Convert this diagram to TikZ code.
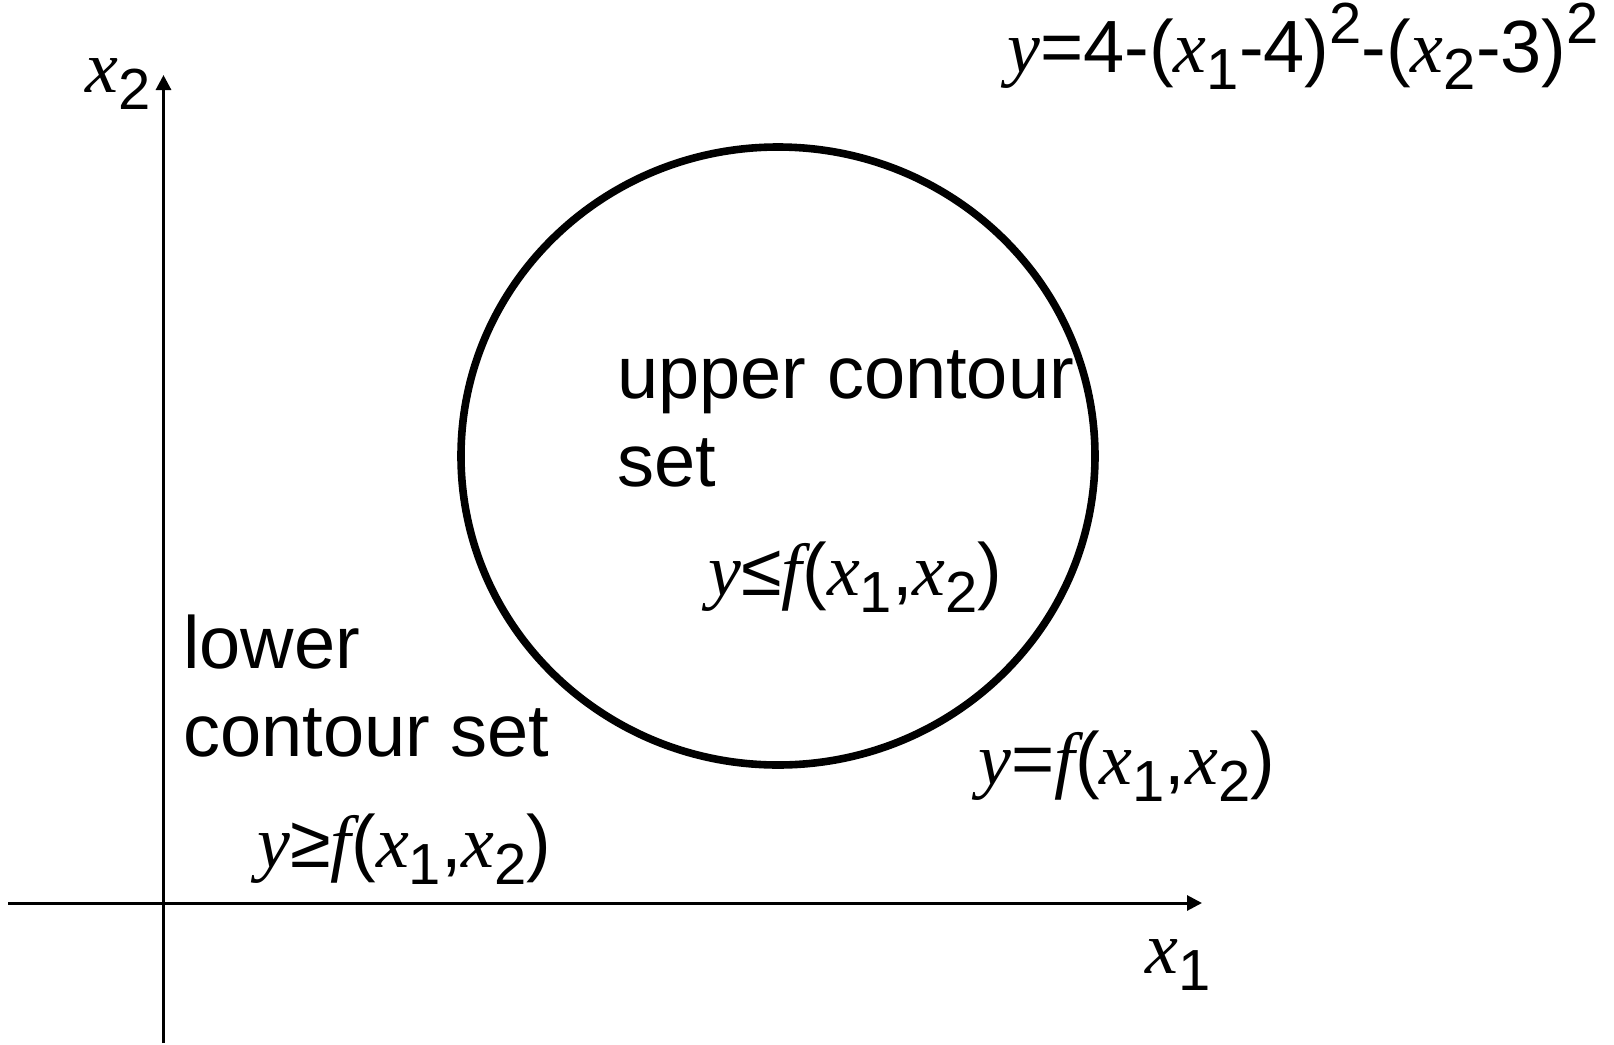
\documentclass[tikz,border=0pt]{standalone}
\usepackage{fontspec}
\setmainfont{Liberation Sans}
\newfontfamily\timesfont{Liberation Serif}
\usetikzlibrary{arrows.meta}

% italic variables in Times, scripts in Arial
\newcommand{\var}[1]{{\timesfont\itshape #1}}
\newcommand{\dn}[1]{\raisebox{-0.24em}{\fontsize{29}{29}\selectfont #1}}
\newcommand{\up}[1]{\raisebox{0.38em}{\fontsize{29}{29}\selectfont #1}}

\begin{document}
\begin{tikzpicture}[
  x=0.5pt, y=-0.5pt,
  font=\fontsize{37}{44}\selectfont,
  lbl/.style={anchor=base west, inner sep=0pt, align=left},
  axis/.style={line width=1.5pt, -{Triangle[length=7.5pt, width=7.5pt]}},
  contour/.style={line width=3.8pt},
]
  \useasboundingbox (0,0) rectangle (1614,1045);

  % --- axes ---
  \coordinate (xtail) at (8,903);
  \coordinate (xhead) at (1202,903);
  \coordinate (ytail) at (163.5,1043);
  \coordinate (yhead) at (163.5,75);
  \draw[axis] (xtail) -- (xhead);
  \draw[axis] (ytail) -- (yhead);
  \node[lbl] (xone) at (1145,973) {\var{x}\dn{1}};
  \node[lbl] (xtwo) at (85,92) {\var{x}\dn{2}};

  % --- level curve ---
  \draw[contour] (778,456) ellipse [x radius=317, y radius=309];

  % --- labels (base = last line) ---
  \node[lbl] (formula) at (1007,72)
    {\var{y}=4-(\var{x}\dn{1}-4)\up{2}-(\var{x}\dn{2}-3)\up{2}};
  \node[lbl] (upper) at (617,486) {upper contour\\set};
  \node[lbl] (ineqle) at (708,595) {\var{y}≤\var{f}(\var{x}\dn{1},\var{x}\dn{2})};
  \node[lbl] (lower) at (183,756) {lower\\contour set};
  \node[lbl] (ineqge) at (257,867) {\var{y}≥\var{f}(\var{x}\dn{1},\var{x}\dn{2})};
  \node[lbl] (level) at (978,784) {\var{y}=\var{f}(\var{x}\dn{1},\var{x}\dn{2})};

\end{tikzpicture}
\end{document}
